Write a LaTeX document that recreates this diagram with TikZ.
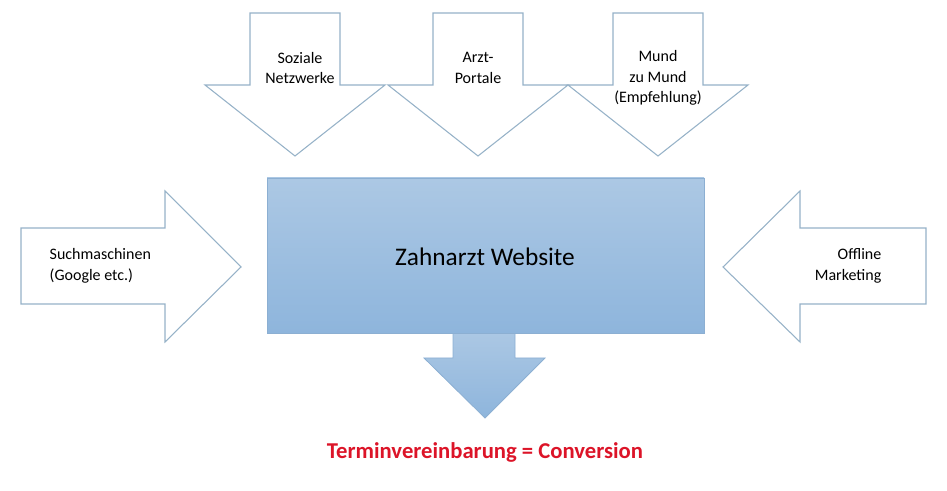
\documentclass[tikz,border=0pt]{standalone}
\usepackage{fontspec}
\setmainfont{Carlito}
\definecolor{arrowline}{RGB}{150,178,200}
\definecolor{boxtop}{RGB}{172,200,228}
\definecolor{boxbot}{RGB}{142,181,220}
\definecolor{boxline}{RGB}{140,175,210}
\definecolor{convred}{RGB}{220,20,40}
\tikzset{
  whitearrow/.style={draw=arrowline,fill=white,line width=0.8pt},
  bluearrow/.style={draw=boxline,top color=boxtop,bottom color=boxbot,line width=0.6pt},
  lbl/.style={font=\fontsize{12}{15.5}\selectfont,align=center}
}
\begin{document}
\begin{tikzpicture}[x=0.75pt,y=-0.75pt]
		\useasboundingbox (0,0) rectangle (947,491);
		% top arrows
		\foreach \cx in {295,478,658}{
			\draw [whitearrow] (\cx-45,13) -- (\cx+45,13) -- (\cx+45,85) -- (\cx+90,85) -- (\cx,156) -- (\cx-90,85) -- (\cx-45,85) -- cycle;
		}
		\node [lbl] (soz) at (300,68) {Soziale\\Netzwerke};
		\node [lbl] (arzt) at (478,68) {Arzt-\\Portale};
		\node [lbl] (mund) at (658,78) {Mund\\zu Mund\\(Empfehlung)};
		% left and right arrows
		\draw [whitearrow] (21,228) -- (165,228) -- (165,191) -- (241,267) -- (165,342) -- (165,304) -- (21,304) -- cycle;
		\draw [whitearrow] (926,228) -- (800,228) -- (800,191) -- (723,267) -- (800,342) -- (800,304) -- (926,304) -- cycle;
		\node [lbl,align=left,anchor=west] (such) at (45,266) {Suchmaschinen\\(Google etc.)};
		\node [lbl,align=right,anchor=east] (off) at (886,266) {Offline\\Marketing};
		% website box and arrow down
		\draw [bluearrow] (453,330) -- (515,330) -- (515,358) -- (545,358) -- (485,418) -- (424,358) -- (453,358) -- cycle;
		\draw [bluearrow] (267,178) rectangle (704,333);
		\node [font=\fontsize{19}{22}\selectfont] (web) at (485,257) {Zahnarzt Website};
		\node [font=\bfseries\fontsize{17}{20}\selectfont,text=convred] (conv) at (485,452) {Terminvereinbarung = Conversion};
\end{tikzpicture}
\end{document}
